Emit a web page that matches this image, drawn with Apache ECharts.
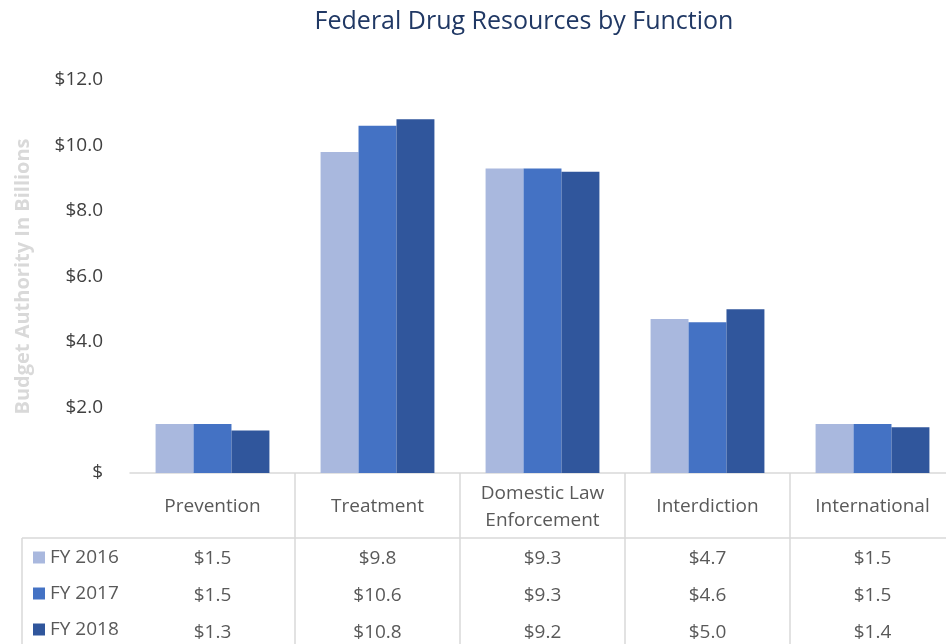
<!DOCTYPE html>
<html>
<head>
<meta charset="utf-8">
<script src="https://cdn.jsdelivr.net/npm/echarts@6/dist/echarts.min.js"></script>
<style>
	html, body { margin: 0; padding: 0; background: #fff; }
	#chart { width: 946px; height: 644px; }
</style>
</head>
<body>
<div id="chart"></div>
<script>
	var categories = ['Prevention', 'Treatment', 'Domestic Law\nEnforcement', 'Interdiction', 'International'];
	var seriesNames = ['FY 2016', 'FY 2017', 'FY 2018'];
	var fy2016 = [1.5, 9.8, 9.3, 4.7, 1.5];
	var fy2017 = [1.5, 10.6, 9.3, 4.6, 1.5];
	var fy2018 = [1.3, 10.8, 9.2, 5.0, 1.4];
	var yTicks = [0, 2, 4, 6, 8, 10, 12];

	var colors = ['#a9b8de', '#4472c4', '#30569c'];
	var allData = [fy2016, fy2017, fy2018];
	var labelColor = '#595959';
	var lineColor = '#d9d9d9';
	var font = '"Open Sans", "Liberation Sans", sans-serif';

	function money(v) {
		return '$' + v.toFixed(1);
	}

	//表格行: 每一行是一条不画线的x轴
	var rowMargins = [86, 123, 160];
	var tableAxes = allData.map(function(arr, i) {
		return {
			type: 'category',
			position: 'bottom',
			data: arr.map(money),
			axisLine: {show: false},
			axisTick: {show: false},
			axisLabel: {
				margin: rowMargins[i],
				verticalAlign: 'middle',
				color: labelColor,
				fontSize: 19,
				fontFamily: font,
				interval: 0
			}
		};
	});

	var chart = echarts.init(document.getElementById('chart'));
	var option = {
		animation: false,
		color: colors,
		title: {
			text: 'Federal Drug Resources by Function',
			left: 519,
			top: 4,
			textAlign: 'center',
			textStyle: {
				color: '#203864',
				fontWeight: 'normal',
				fontSize: 25,
				fontFamily: font
			}
		},
		legend: {
			data: seriesNames,
			orient: 'vertical',
			left: 28,
			top: 543,
			icon: 'rect',
			itemWidth: 12,
			itemHeight: 12,
			itemGap: 17,
			textStyle: {
				color: labelColor,
				fontSize: 19,
				fontFamily: font,
				padding: [0, 0, 0, 0]
			}
		},
		grid: {
			left: 130,
			top: 80,
			width: 825,
			height: 393,
			containLabel: false,
			outerBoundsMode: 'none'
		},
		xAxis: [{
			type: 'category',
			position: 'bottom',
			data: categories,
			axisLine: {lineStyle: {color: lineColor, width: 1.5}},
			axisTick: {
				show: true,
				length: 180,
				interval: function(idx) { return idx > 0; },
				lineStyle: {color: lineColor, width: 1.5}
			},
			axisLabel: {
				margin: 34,
				verticalAlign: 'middle',
				color: labelColor,
				fontSize: 19,
				lineHeight: 27,
				fontFamily: font,
				interval: 0
			}
		}].concat(tableAxes),
		yAxis: {
			type: 'value',
			min: yTicks[0],
			max: yTicks[yTicks.length - 1],
			interval: 2,
			name: 'Budget Authority In Billions',
			nameLocation: 'middle',
			nameRotate: 90,
			nameGap: 97,
			nameTextStyle: {
				color: lineColor,
				fontWeight: 'bold',
				fontSize: 20,
				fontFamily: font
			},
			axisLine: {show: false},
			axisTick: {show: false},
			splitLine: {show: false},
			axisLabel: {
				margin: 27,
				color: '#404040',
				fontSize: 19,
				fontFamily: font,
				formatter: function(v) { return v === 0 ? '$' : money(v); }
			}
		},
		graphic: [
			{type: 'line', shape: {x1: 22, y1: 538, x2: 946, y2: 538}, style: {stroke: lineColor, lineWidth: 1.5}},
			{type: 'line', shape: {x1: 22, y1: 538, x2: 22, y2: 644}, style: {stroke: lineColor, lineWidth: 1.5}}
		],
		series: allData.map(function(arr, i) {
			return {
				name: seriesNames[i],
				type: 'bar',
				xAxisIndex: 0,
				barGap: '0%',
				barCategoryGap: '31%',
				data: arr
			};
		})
	};
	chart.setOption(option);
</script>
</body>
</html>
